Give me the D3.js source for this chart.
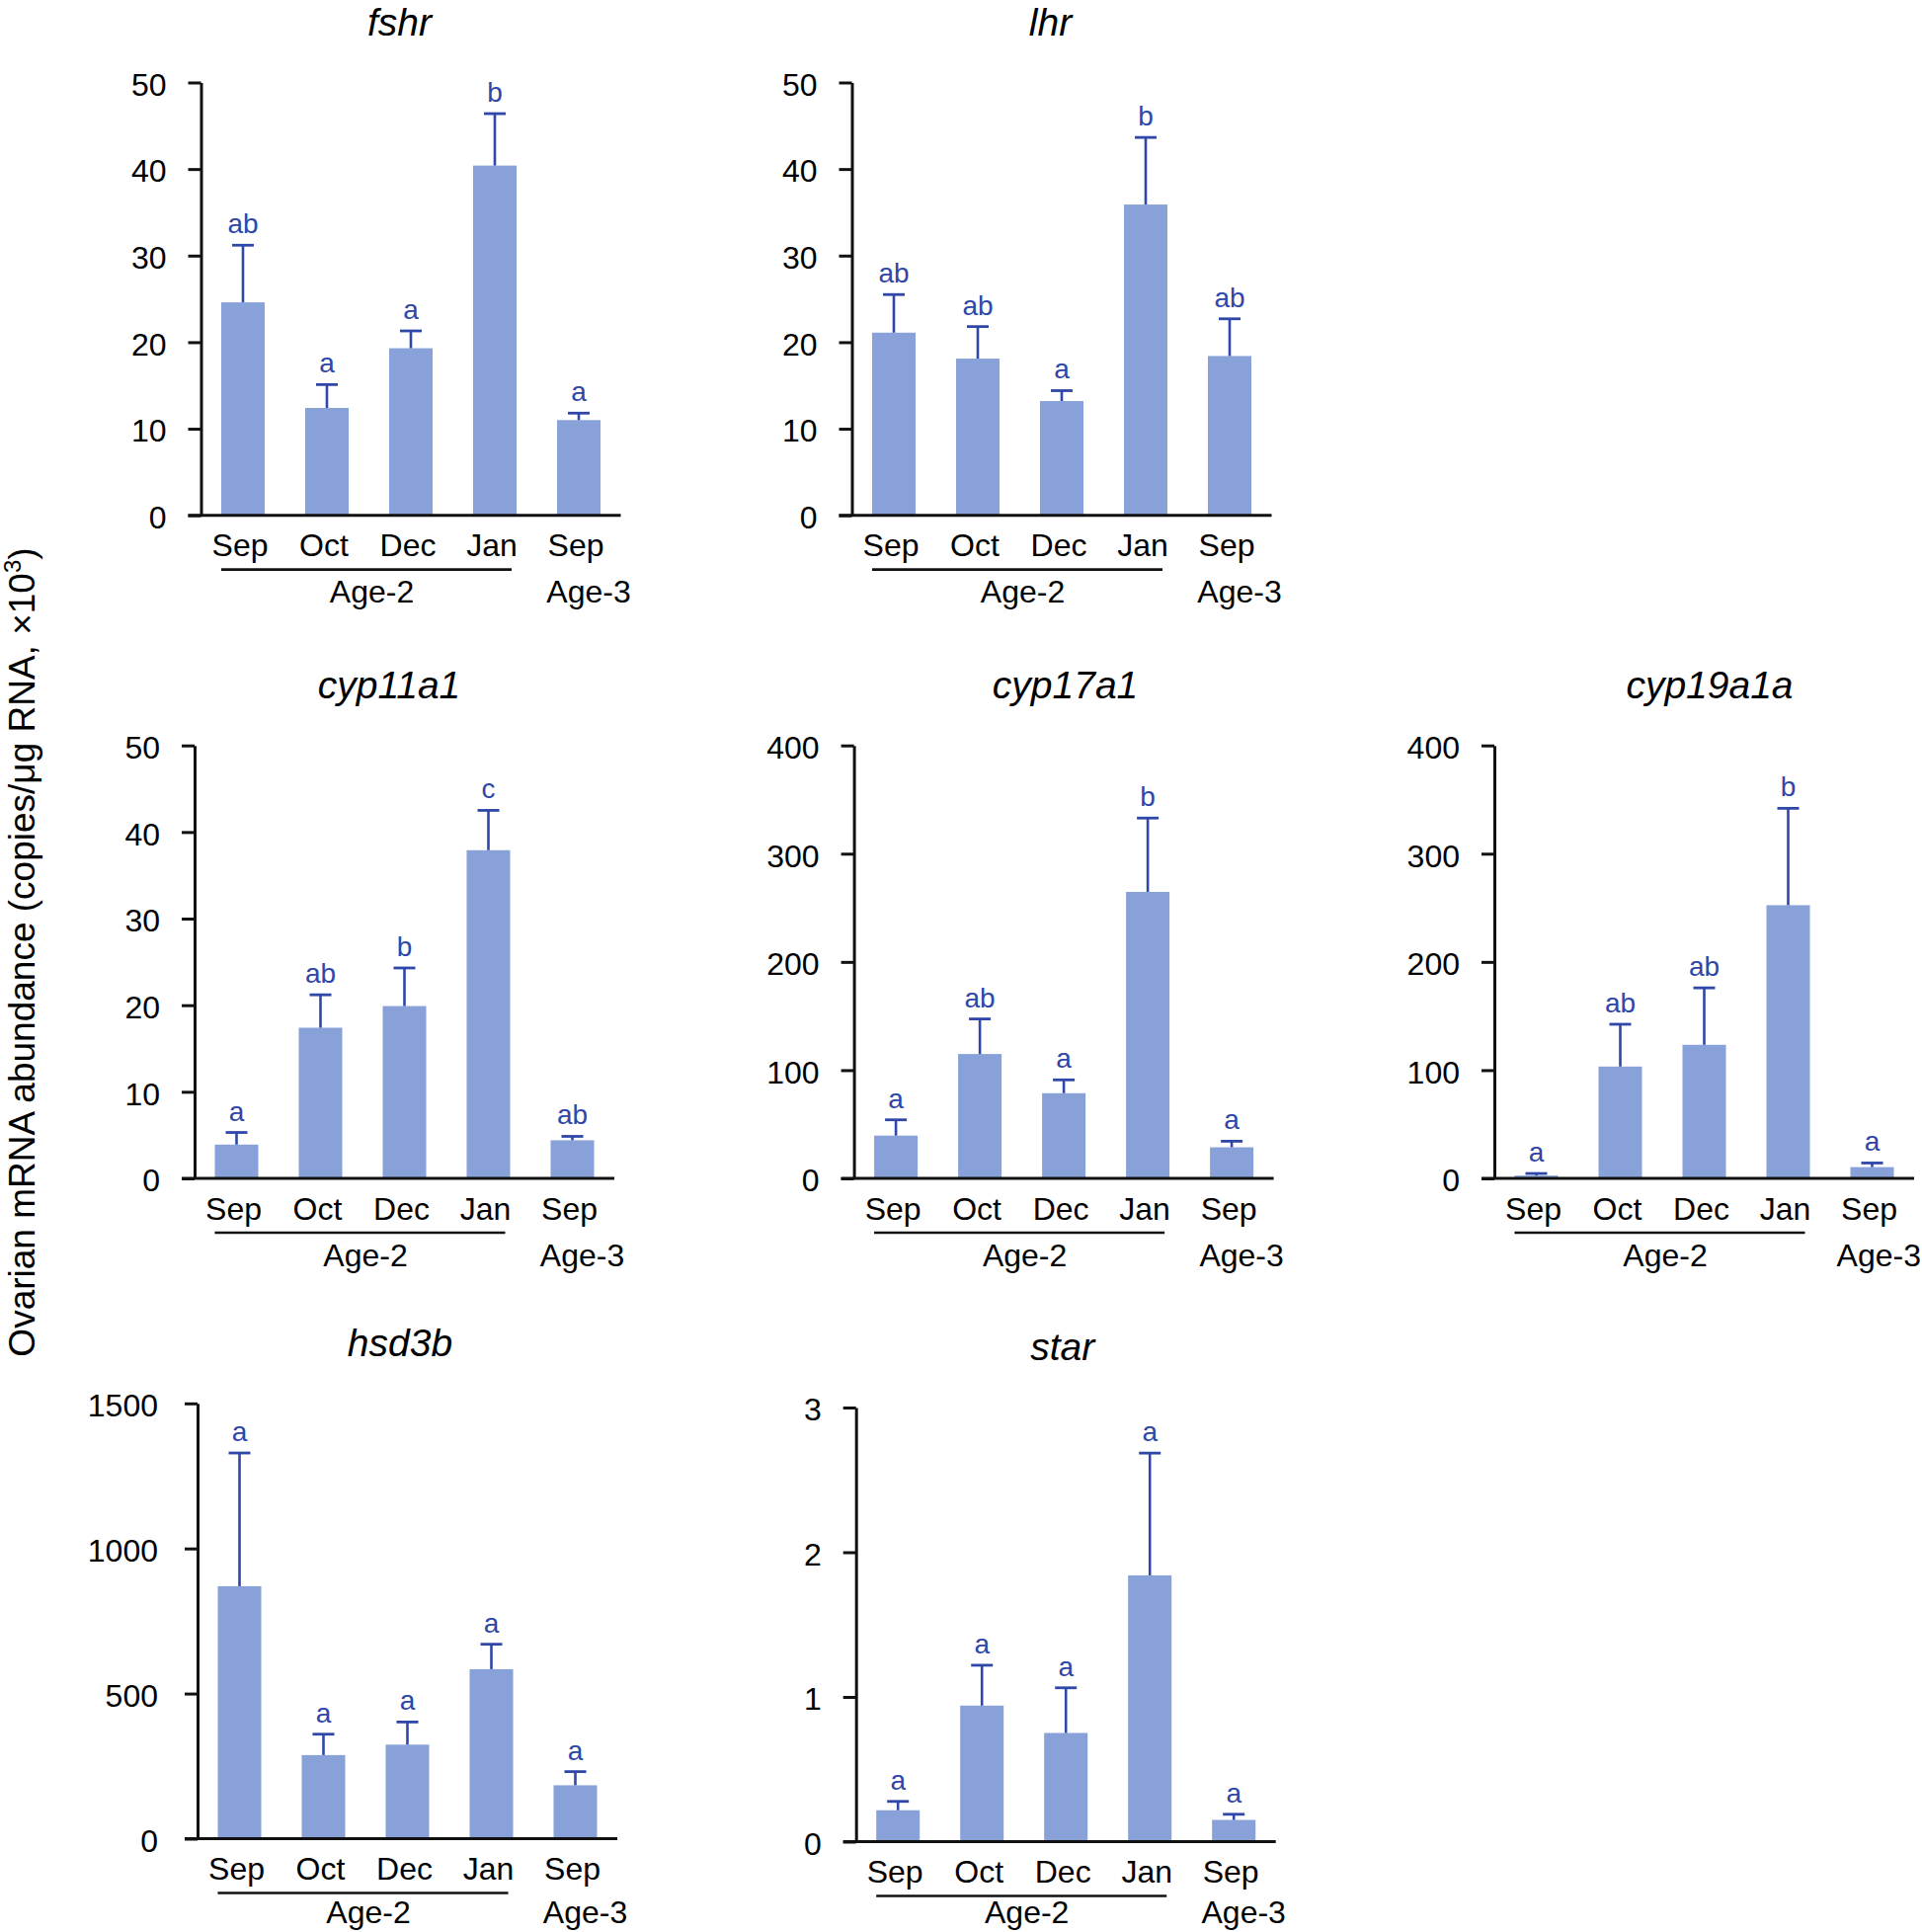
<!DOCTYPE html>
<html>
<head>
<meta charset="utf-8">
<script src="https://cdn.jsdelivr.net/npm/d3@7"></script>
<style>
  html, body { margin: 0; padding: 0; background: #fff; }
  svg { display: block; font-family: "Liberation Sans", Arial, Helvetica, sans-serif; }
</style>
</head>
<body>
<svg id="chart" width="1946" height="1956"></svg>
<script>
// ---------------- DATA ----------------
const months = ["Sep", "Oct", "Dec", "Jan", "Sep "];
const monthLabels = ["Sep", "Oct", "Dec", "Jan", "Sep"];
const ageGroups = ["Age-2", "Age-3"];
const ageGroupOf = [0, 0, 0, 0, 1];
const yAxisTitle = "Ovarian mRNA abundance (copies/\u03bcg RNA, \u00d710";

const genes = ["fshr", "lhr", "cyp11a1", "cyp17a1", "cyp19a1a", "hsd3b", "star"];

const fshrMean = [24.6, 12.4, 19.3, 40.4, 11.0];
const fshrSem  = [6.6, 2.7, 2.0, 6.0, 0.8];
const fshrSig  = ["ab", "a", "a", "b", "a"];

const lhrMean = [21.1, 18.1, 13.2, 35.9, 18.4];
const lhrSem  = [4.4, 3.7, 1.2, 7.75, 4.3];
const lhrSig  = ["ab", "ab", "a", "b", "ab"];

const cyp11a1Mean = [3.9, 17.4, 19.9, 37.9, 4.4];
const cyp11a1Sem  = [1.4, 3.8, 4.4, 4.6, 0.45];
const cyp11a1Sig  = ["a", "ab", "b", "c", "ab"];

const cyp17a1Mean = [39.5, 114.9, 78.7, 264.7, 28.7];
const cyp17a1Sem  = [14.6, 32.4, 12.3, 68.2, 5.6];
const cyp17a1Sig  = ["a", "ab", "a", "b", "a"];

const cyp19a1aMean = [2.6, 103.3, 123.4, 252.4, 10.4];
const cyp19a1aSem  = [1.9, 39.1, 52.6, 89.5, 3.8];
const cyp19a1aSig  = ["a", "ab", "ab", "b", "a"];

const hsd3bMean = [870, 288, 324, 584, 184];
const hsd3bSem  = [459, 72, 78, 86, 47];
const hsd3bSig  = ["a", "a", "a", "a", "a"];

const starMean = [0.217, 0.94, 0.751, 1.84, 0.150];
const starSem  = [0.061, 0.279, 0.312, 0.845, 0.039];
const starSig  = ["a", "a", "a", "a", "a"];

const ticks50   = [0, 10, 20, 30, 40, 50];
const ticks400  = [0, 100, 200, 300, 400];
const ticks1500 = [0, 500, 1000, 1500];
const ticks3    = [0, 1, 2, 3];

// ---------------- LAYOUT (positions only) ----------------
const layout = [
  { x0: 203.5, yTop: 83.5,  yBot: 521.7, titleDx: 201, pad: 22 },
  { x0: 862.5, yTop: 83.5,  yBot: 521.7, titleDx: 201, pad: 22 },
  { x0: 197,   yTop: 754.7, yBot: 1193,  titleDx: 197, pad: 22 },
  { x0: 864.6, yTop: 754.7, yBot: 1193,  titleDx: 214, pad: 22 },
  { x0: 1513,  yTop: 754.7, yBot: 1193,  titleDx: 218, pad: 22 },
  { x0: 200,   yTop: 1420.8, yBot: 1861.5, titleDx: 205, pad: 27 },
  { x0: 866.7, yTop: 1425,  yBot: 1864.5, titleDx: 209, pad: 22 }
];

const panels = [
  { gene: genes[0], mean: fshrMean, sem: fshrSem, sig: fshrSig, ticks: ticks50 },
  { gene: genes[1], mean: lhrMean, sem: lhrSem, sig: lhrSig, ticks: ticks50 },
  { gene: genes[2], mean: cyp11a1Mean, sem: cyp11a1Sem, sig: cyp11a1Sig, ticks: ticks50 },
  { gene: genes[3], mean: cyp17a1Mean, sem: cyp17a1Sem, sig: cyp17a1Sig, ticks: ticks400 },
  { gene: genes[4], mean: cyp19a1aMean, sem: cyp19a1aSem, sig: cyp19a1aSig, ticks: ticks400 },
  { gene: genes[5], mean: hsd3bMean, sem: hsd3bSem, sig: hsd3bSig, ticks: ticks1500 },
  { gene: genes[6], mean: starMean, sem: starSem, sig: starSig, ticks: ticks3 }
];

// ---------------- STYLE ----------------
const W = 1946, H = 1956;
const barColor = "#88a2d9";
const errColor = "#2f47a8";
const axisColor = "#111";
const plotWidth = 425;
const tickLen = 13;

const svg = d3.select("#chart");

panels.forEach((p, i) => {
  const L = layout[i];
  const g = svg.append("g");

  const x = d3.scaleBand()
    .domain(months)
    .range([L.x0, L.x0 + plotWidth])
    .paddingInner(0.482)
    .paddingOuter(0.241);

  const y = d3.scaleLinear()
    .domain([0, d3.max(p.ticks)])
    .range([L.yBot, L.yTop]);

  const rows = months.map((m, k) => ({
    m, label: monthLabels[k], mean: p.mean[k], sem: p.sem[k], sig: p.sig[k]
  }));

  // bars
  g.selectAll("rect.bar").data(rows).join("rect")
    .attr("class", "bar")
    .attr("x", d => x(d.m))
    .attr("width", x.bandwidth())
    .attr("y", d => y(d.mean))
    .attr("height", d => y(0) - y(d.mean))
    .attr("fill", barColor);

  // error bars (upper only)
  const cap = 22;
  g.selectAll("line.err").data(rows).join("line")
    .attr("class", "err")
    .attr("x1", d => x(d.m) + x.bandwidth() / 2)
    .attr("x2", d => x(d.m) + x.bandwidth() / 2)
    .attr("y1", d => y(d.mean))
    .attr("y2", d => y(d.mean + d.sem))
    .attr("stroke", errColor).attr("stroke-width", 2.6);
  g.selectAll("line.cap").data(rows).join("line")
    .attr("class", "cap")
    .attr("x1", d => x(d.m) + x.bandwidth() / 2 - cap / 2)
    .attr("x2", d => x(d.m) + x.bandwidth() / 2 + cap / 2)
    .attr("y1", d => y(d.mean + d.sem))
    .attr("y2", d => y(d.mean + d.sem))
    .attr("stroke", errColor).attr("stroke-width", 2.8);

  // significance letters
  g.selectAll("text.sig").data(rows).join("text")
    .attr("class", "sig")
    .attr("x", d => x(d.m) + x.bandwidth() / 2)
    .attr("y", d => y(d.mean + d.sem) - 12)
    .attr("text-anchor", "middle")
    .attr("font-size", 28)
    .attr("fill", errColor)
    .text(d => d.sig);

  // y axis
  const yAxis = g.append("g")
    .attr("transform", `translate(${L.x0},0)`)
    .call(d3.axisLeft(y).tickValues(p.ticks).tickSize(tickLen).tickSizeOuter(0)
      .tickPadding(L.pad).tickFormat(d3.format("d")));
  yAxis.select(".domain").attr("stroke", axisColor).attr("stroke-width", 3);
  yAxis.selectAll(".tick line").attr("stroke", axisColor).attr("stroke-width", 3);
  yAxis.selectAll(".tick text")
    .attr("font-size", 32).attr("fill", "#000")
    .attr("font-family", "Liberation Sans, Arial, sans-serif")
    .attr("dy", "0.4em");

  // x axis labels
  const xAxis = g.append("g")
    .attr("transform", `translate(0,${L.yBot})`)
    .call(d3.axisBottom(x).tickSize(0).tickPadding(19).tickFormat((d, k) => monthLabels[k]));
  xAxis.select(".domain").remove();
  xAxis.selectAll(".tick text")
    .attr("font-size", 32).attr("fill", "#000")
    .attr("font-family", "Liberation Sans, Arial, sans-serif")
    .attr("dx", -3);

  // x axis line (extends left by tick length)
  g.append("line")
    .attr("x1", x.range()[0] - tickLen).attr("x2", x.range()[1])
    .attr("y1", y(0)).attr("y2", y(0))
    .attr("stroke", axisColor).attr("stroke-width", 3);

  // age group labels
  ageGroups.forEach((lab, gi) => {
    const idx = months.filter((m, k) => ageGroupOf[k] === gi);
    const left = x(idx[0]);
    const right = x(idx[idx.length - 1]) + x.bandwidth();
    if (idx.length > 1) {
      g.append("line")
        .attr("x1", left).attr("x2", right - 5)
        .attr("y1", L.yBot + 55).attr("y2", L.yBot + 55)
        .attr("stroke", axisColor).attr("stroke-width", 2.7);
    }
    const t = g.append("text")
      .attr("x", idx.length > 1 ? (left + right) / 2 + 3 : (left + right) / 2 + 10)
      .attr("y", Math.min(L.yBot + 88.5, H - 9))
      .attr("text-anchor", "middle")
      .attr("font-size", 32)
      .attr("fill", "#000")
      .text(lab);
    // keep inside the canvas
    const bb = t.node().getBBox();
    if (bb.x + bb.width > W - 1) {
      t.attr("x", +t.attr("x") - (bb.x + bb.width - (W - 1)));
    }
  });

  // title
  g.append("text")
    .attr("x", L.x0 + L.titleDx)
    .attr("y", L.yTop - 48)
    .attr("text-anchor", "middle")
    .attr("font-size", 39)
    .attr("font-style", "italic")
    .attr("fill", "#000")
    .text(p.gene);
});

// shared y axis title
const yt = svg.append("text")
  .attr("transform", "translate(35,964) rotate(-90)")
  .attr("text-anchor", "middle")
  .attr("font-size", 37)
  .attr("fill", "#000");
yt.append("tspan").text(yAxisTitle);
yt.append("tspan").attr("dy", -14).attr("font-size", 24).text("3");
yt.append("tspan").attr("dy", 14).text(")");
</script>
</body>
</html>
